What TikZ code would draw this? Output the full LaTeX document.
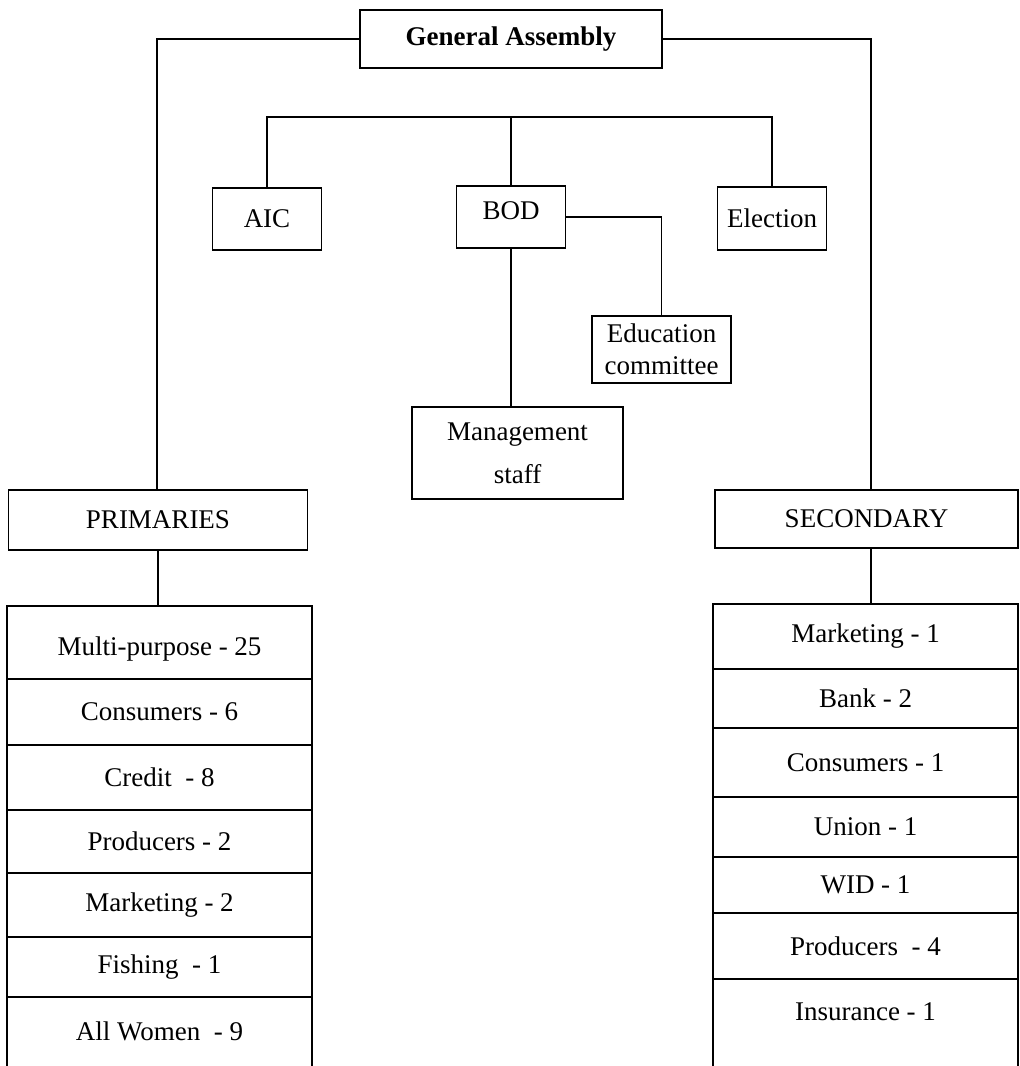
\documentclass[tikz,border=0pt]{standalone}
\usepackage{fontspec}
\setmainfont{Liberation Serif}
\newcommand{\shiftup}[2]{\raisebox{#1}[\height][\depth]{#2}}
\begin{document}
\begin{tikzpicture}[x=1pt,y=-1pt,line width=1.3pt,
  every node/.style={outer sep=0pt},
  txt/.style={font=\fontsize{27}{32}\selectfont},
  box/.style 2 args={draw,txt,minimum width=#1,minimum height=#2,inner sep=0pt,align=center},
  rowbox/.style={draw,txt,minimum width=305,minimum height=#1,inner sep=0pt},
  openrow/.style={txt,minimum width=305,minimum height=#1,inner sep=0pt}]
\path[use as bounding box] (0,0) rectangle (1020,1066);
% top
\node[box={302}{58},font=\fontsize{27}{32}\selectfont\bfseries] (ga) at (511,39) {General Assembly};
\node[box={109}{62}] (aic) at (267,219) {AIC};
\node[box={109}{62}] (bod) at (511,217) {\shiftup{6pt}{BOD}};
\node[box={109}{63}] (elec) at (772,218.5) {Election};
\node[box={139}{67}] (edu) at (661.5,349.5) {Education\\committee};
\node[box={211}{92},font=\fontsize{27}{43}\selectfont] (mgmt) at (517.5,453) {Management\\staff};
\node[box={299}{60}] (prim) at (158,520) {PRIMARIES};
\node[box={303}{58}] (sec) at (866.5,519) {SECONDARY};
% left list
\node[rowbox=73] (p1) at (159.5,642.5) {\shiftup{-6pt}{Multi-purpose - 25}};
\node[rowbox=66] (p2) at (159.5,712) {Consumers - 6};
\node[rowbox=65] (p3) at (159.5,777.5) {Credit~ - 8};
\node[rowbox=63] (p4) at (159.5,841.5) {Producers - 2};
\node[rowbox=64] (p5) at (159.5,905) {Marketing - 2};
\node[rowbox=60] (p6) at (159.5,967) {Fishing~ - 1};
\node[openrow=69] (p7) at (159.5,1031.5) {All Women~ - 9};
\draw (p7.south west) -- (p7.north west) -- (p7.north east) -- (p7.south east);
% right list
\node[rowbox=65] (s1) at (865.5,636.5) {Marketing - 1};
\node[rowbox=59] (s2) at (865.5,698.5) {Bank - 2};
\node[rowbox=69] (s3) at (865.5,762.5) {Consumers - 1};
\node[rowbox=60] (s4) at (865.5,827) {Union - 1};
\node[rowbox=56] (s5) at (865.5,885) {WID - 1};
\node[rowbox=66] (s6) at (865.5,946) {Producers~ - 4};
\node[openrow=87] (s7) at (865.5,1022.5) {\shiftup{11pt}{Insurance - 1}};
\draw (s7.south west) -- (s7.north west) -- (s7.north east) -- (s7.south east);
% connectors
\coordinate (bar) at (0,117);
\coordinate (lv) at (157,0);
\coordinate (rv) at (871,0);
\draw (ga.west) -| (prim.north -| lv);
\draw (ga.east) -| (sec.north -| rv);
\draw (aic.north) |- (elec.north |- bar) -- (elec.north);
\draw (bod.north) -- (bod.north |- bar);
\draw (bod.east) -| (edu.north);
\draw (bod.south) -- (bod.south |- mgmt.north);
\draw (prim.south) -- (prim.south |- p1.north);
\draw (sec.south -| rv) -- (s1.north -| rv);
\end{tikzpicture}
\end{document}
